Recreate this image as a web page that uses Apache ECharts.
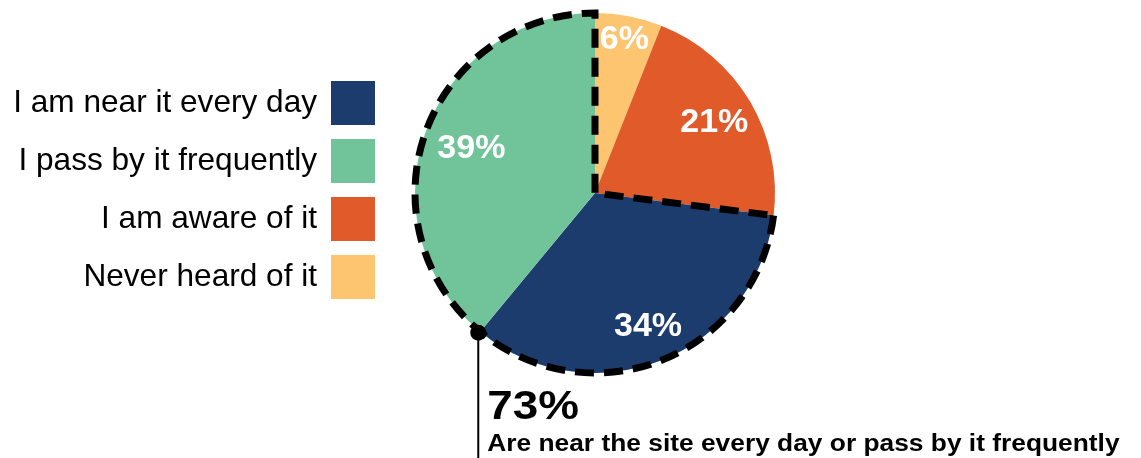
<!DOCTYPE html>
<html>
<head>
<meta charset="utf-8">
<title>Awareness of the site</title>
<script src="https://cdn.jsdelivr.net/npm/echarts@6/dist/echarts.min.js"></script>
<style>
  html, body { margin: 0; padding: 0; background: #fff; }
  #chart { width: 1141px; height: 458px; }
</style>
</head>
<body>
<div id="chart"></div>
<script>
// Survey answers, in legend order
const categories = [
  'I am near it every day',
  'I pass by it frequently',
  'I am aware of it',
  'Never heard of it'
];
const shares = [34, 39, 21, 6];
const colors = ['#1c3c6d', '#71c499', '#e15b2a', '#fdc56f'];

// Order in which slices run clockwise from twelve o'clock
const sliceOrder = [3, 2, 0, 1];

// Answers grouped by the dashed outline and its callout
const groupMembers = [0, 1];
const calloutText = 'Are near the site every day or pass by it frequently';

// Label distance from the centre, as a fraction of the radius (legend order)
const labelRadius = [0.80, 0.73, 0.77, 0.87];

const FONT = '"Liberation Sans", Arial, Helvetica, sans-serif';
const CX = 595, CY = 193, R = 180;
const CALLOUT_STRETCH = 1.145;

const total = shares.reduce((a, b) => a + b, 0);
const groupValue = groupMembers.reduce((s, i) => s + shares[i], 0);

const sliceData = sliceOrder.map(i => ({
  name: categories[i],
  value: shares[i],
  itemStyle: { color: colors[i] }
}));

// Start / end angle of every slice, degrees clockwise from the top
const sliceAngles = [];
{
  let acc = 0;
  sliceOrder.forEach(i => {
    const a0 = 360 * acc / total;
    acc += shares[i];
    sliceAngles.push([a0, 360 * acc / total]);
  });
}

// Share that comes before the group, clockwise from the top
let before = 0;
for (const i of sliceOrder) {
  if (groupMembers.includes(i)) break;
  before += shares[i];
}

// Boundary between the two grouped slices, where the callout starts
const boundaryDeg = sliceAngles[sliceOrder.indexOf(groupMembers[0])][1];
const bRad = boundaryDeg * Math.PI / 180;
const dotX = CX + R * Math.sin(bRad);
const dotY = CY - R * Math.cos(bRad);

const chart = echarts.init(document.getElementById('chart'), null, { renderer: 'canvas' });

chart.setOption({
  animation: false,
  legend: {
    orient: 'vertical',
    align: 'right',
    right: 766,
    top: 81,
    padding: 0,
    itemWidth: 44,
    itemHeight: 44,
    itemGap: 14,
    icon: 'rect',
    selectedMode: false,
    itemStyle: { borderWidth: 0 },
    textStyle: { fontSize: 31.6, color: '#000', fontFamily: FONT, padding: [0, 9, 0, 0] },
    data: categories
  },
  series: [
    {
      type: 'pie',
      center: [CX, CY],
      radius: [0, R],
      startAngle: 90,
      clockwise: true,
      silent: true,
      avoidLabelOverlap: false,
      emphasis: { disabled: true },
      itemStyle: { borderWidth: 0 },
      label: {
        show: true,
        position: 'inside',
        color: '#fff',
        fontSize: 34,
        fontWeight: 'bold',
        fontFamily: FONT,
        formatter: p => p.value + '%'
      },
      labelLine: { show: false },
      labelLayout: p => {
        const [a0, a1] = sliceAngles[p.dataIndex];
        const mid = (a0 + a1) / 2 * Math.PI / 180;
        const r = R * labelRadius[sliceOrder[p.dataIndex]];
        return {
          x: CX + r * Math.sin(mid),
          y: CY - r * Math.cos(mid),
          align: 'center',
          verticalAlign: 'middle'
        };
      },
      data: sliceData
    },
    {
      // dashed outline around the grouped answers
      type: 'pie',
      center: [CX, CY],
      radius: [0, R],
      startAngle: 90,
      clockwise: true,
      silent: true,
      z: 5,
      label: { show: false },
      labelLine: { show: false },
      emphasis: { disabled: true },
      data: [
        { name: 'other', value: before, itemStyle: { color: 'rgba(0,0,0,0)', borderWidth: 0 } },
        {
          name: 'group', value: groupValue,
          itemStyle: {
            color: 'rgba(0,0,0,0)',
            borderColor: '#000',
            borderWidth: 7,
            borderType: [19, 10],
            borderJoin: 'miter'
          }
        }
      ]
    }
  ],
  graphic: [
    {
      type: 'line', z: 10,
      shape: { x1: dotX - 2, y1: dotY, x2: dotX - 2, y2: 458 },
      style: { stroke: '#000', lineWidth: 2 }
    },
    {
      type: 'circle', z: 11,
      shape: { cx: dotX - 2, cy: dotY + 1, r: 8 },
      style: { fill: '#000' }
    },
    {
      type: 'text', z: 10,
      x: dotX + 7, y: 407.5,
      scaleX: CALLOUT_STRETCH,
      style: {
        text: Math.round(100 * groupValue / total) + '%',
        fill: '#000',
        font: 'bold 40px ' + FONT,
        verticalAlign: 'middle'
      }
    },
    {
      type: 'text', z: 10,
      x: dotX + 7, y: 445,
      scaleX: CALLOUT_STRETCH,
      style: {
        text: calloutText,
        fill: '#000',
        font: 'bold 23px ' + FONT,
        verticalAlign: 'middle'
      }
    }
  ]
});
</script>
</body>
</html>
